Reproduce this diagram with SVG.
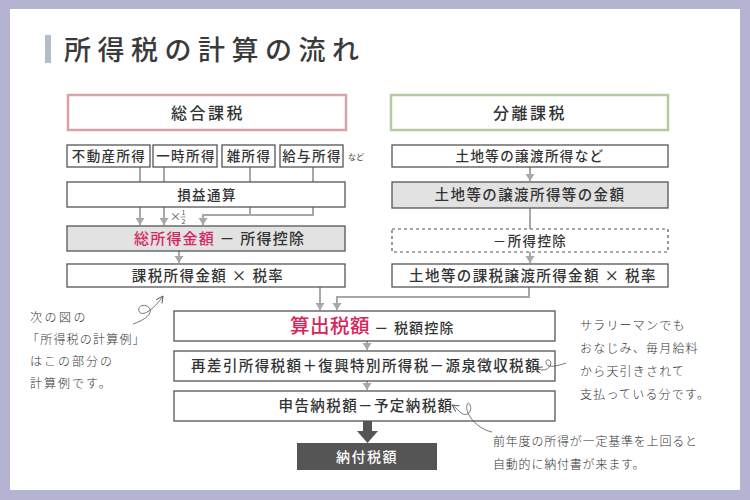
<svg xmlns="http://www.w3.org/2000/svg" width="750" height="500" viewBox="0 0 750 500">
<defs>
<style>
text{font-family:"Noto Sans CJK JP","Noto Sans",sans-serif;fill:#333}
.box{fill:#fff;stroke:#555;stroke-width:1.3}
.gbox{fill:#e2e2e2;stroke:#555;stroke-width:1.3}
.dbox{fill:#fff;stroke:#555;stroke-width:1.2;stroke-dasharray:3 3}
.t{font-size:13.5px;letter-spacing:1.4px;text-anchor:middle;font-weight:500}
.t15{font-size:14.5px;letter-spacing:1.4px;text-anchor:middle;font-weight:500}
.con{fill:none;stroke:#a8a8a8;stroke-width:2}
.note{font-size:12px;letter-spacing:1.2px;font-weight:300;fill:#333}
.sq{fill:none;stroke:#555;stroke-width:0.8}
.red{fill:#d8245c}
</style>
<marker id="ah" markerUnits="userSpaceOnUse" markerWidth="8" markerHeight="10" refX="7" refY="5" orient="auto" viewBox="0 0 8 10">
<path d="M0,0.5 L7,5 L0,9.5 Z" fill="#a8a8a8"/>
</marker>
<marker id="sh" markerUnits="userSpaceOnUse" markerWidth="8" markerHeight="8" refX="7" refY="4" orient="auto" viewBox="0 0 8 8">
<path d="M0,0.5 L7,4 L0,7.5" fill="none" stroke="#555" stroke-width="0.9"/>
</marker>
</defs>
<rect x="0" y="0" width="750" height="500" fill="#b4b3d2"/>
<rect x="10" y="9" width="730" height="481" fill="#fff"/>
<g id="title">
<rect x="45" y="35" width="6" height="28" fill="#b2bccb"/>
<text x="64" y="60" style="font-size:27px;letter-spacing:6.5px;font-weight:500;fill:#3a3a3a">所得税の計算の流れ</text>
</g>

<g id="connectors">
<line class="con" x1="140" y1="167" x2="140" y2="182"/>
<line class="con" x1="164" y1="167" x2="164" y2="182"/>
<line class="con" x1="250" y1="167" x2="250" y2="182"/>
<line class="con" x1="313" y1="167" x2="313" y2="182"/>
<path class="con" d="M140,207 V225" marker-end="url(#ah)"/>
<path class="con" d="M164,207 V225" marker-end="url(#ah)"/>
<path class="con" d="M250,207 V215"/>
<path class="con" d="M313,207 V215 H203 V225" marker-end="url(#ah)"/>
<path class="con" d="M179,251 V263" marker-end="url(#ah)"/>
<path class="con" d="M320,287 V310" marker-end="url(#ah)"/>
<path class="con" d="M529,287 V297 H337 V310" marker-end="url(#ah)"/>
<path class="con" d="M530,167 V181" marker-end="url(#ah)"/>
<line class="con" x1="530" y1="208" x2="530" y2="229"/>
<path class="con" d="M530,252 V263" marker-end="url(#ah)"/>
<path class="con" d="M367,341 V350" marker-end="url(#ah)"/>
<path class="con" d="M367,381 V390" marker-end="url(#ah)"/>
<path d="M363,421 H372 V431 H378 L367.5,443 L357,431 H363 Z" fill="#555"/>
<text x="170" y="221" style="font-size:11px;fill:#555">×</text>
<text x="181.5" y="215" style="font-size:7px;fill:#555">1</text>
<line x1="180.5" y1="217" x2="185.5" y2="217" stroke="#555" stroke-width="0.6"/>
<text x="181.5" y="224" style="font-size:7px;fill:#555">2</text>
</g>

<g id="sogo">
<rect x="68" y="95" width="278" height="35" fill="#fff" stroke="#d9a2a8" stroke-width="2.5"/>
<text x="208" y="118.5" style="font-size:16px;letter-spacing:2.5px;text-anchor:middle;font-weight:500">総合課税</text>
</g>
<g id="bunri">
<rect x="391" y="95" width="277" height="35" fill="#fff" stroke="#b6c9a0" stroke-width="2.5"/>
<text x="530" y="118.5" style="font-size:16px;letter-spacing:2.5px;text-anchor:middle;font-weight:500">分離課税</text>
</g>

<g id="fudosan"><rect class="box" x="67" y="145" width="83" height="22"/><text class="t" x="109" y="161">不動産所得</text></g>
<g id="ichiji"><rect class="box" x="153" y="145" width="64" height="22"/><text class="t" x="186" y="161">一時所得</text></g>
<g id="zatsu"><rect class="box" x="222" y="145" width="53" height="22"/><text class="t" x="249" y="161">雑所得</text></g>
<g id="kyuyo"><rect class="box" x="280" y="145" width="63" height="22"/><text class="t" x="312" y="161">給与所得</text></g>
<text x="348" y="160" style="font-size:8px;fill:#444">など</text>

<g id="sonneki"><rect class="box" x="67" y="182" width="278" height="25"/><text class="t" x="207" y="199.5">損益通算</text></g>
<g id="soshotoku"><rect class="gbox" x="67" y="226" width="278" height="25"/>
<text x="134" y="244" style="font-size:15px;letter-spacing:1.2px;font-weight:500"><tspan class="red">総所得金額</tspan><tspan> － 所得控除</tspan></text></g>
<g id="kazei"><rect class="box" x="67" y="264" width="278" height="23"/><text class="t15" x="208" y="281">課税所得金額 × 税率</text></g>

<g id="tochi1"><rect class="box" x="392" y="145" width="276" height="22"/><text class="t" x="530" y="161">土地等の譲渡所得など</text></g>
<g id="tochi2"><rect class="gbox" x="392" y="182" width="276" height="26"/><text class="t15" x="530" y="200">土地等の譲渡所得等の金額</text></g>
<g id="kojo"><rect class="dbox" x="392" y="229" width="276" height="23"/><text class="t" x="530" y="246">－所得控除</text></g>
<g id="tochi3"><rect class="box" x="392" y="264" width="276" height="23"/><text class="t15" x="533" y="281">土地等の課税譲渡所得金額 × 税率</text></g>

<g id="sanshutsu"><rect class="box" x="174" y="311" width="381" height="30"/>
<text x="290" y="333" style="font-weight:500"><tspan class="red" style="font-size:19.5px;letter-spacing:0.5px">算出税額</tspan><tspan style="font-size:14px;letter-spacing:1.2px"> － 税額控除</tspan></text></g>
<g id="sashihiki"><rect class="box" x="174" y="351" width="381" height="30"/><text class="t15" x="366" y="371">再差引所得税額＋復興特別所得税－源泉徴収税額</text></g>
<g id="shinkoku"><rect class="box" x="174" y="391" width="381" height="30"/><text class="t15" x="366" y="411">申告納税額－予定納税額</text></g>
<g id="nofu"><rect x="297" y="443" width="140" height="27" fill="#555"/><text x="367" y="461.5" style="font-size:14px;letter-spacing:1.5px;text-anchor:middle;fill:#fff;font-weight:500">納付税額</text></g>

<g id="note-left">
<text class="note" x="30" y="322" style="letter-spacing:2.5px">次の図の</text>
<text class="note" x="27" y="344">「所得税の計算例」</text>
<text class="note" x="30" y="366" style="letter-spacing:2px">はこの部分の</text>
<text class="note" x="30" y="388" style="letter-spacing:2px">計算例です。</text>
<path class="sq" d="M133,324 C145,320 152,314 150,309 C147,303 137,305 139,311 C141,317 152,312 163,296" marker-end="url(#sh)"/>
</g>
<g id="note-right">
<text class="note" x="580" y="330">サラリーマンでも</text>
<text class="note" x="580" y="353">おなじみ、毎月給料</text>
<text class="note" x="580" y="376">から天引きされて</text>
<text class="note" x="580" y="399">支払っている分です。</text>
<path class="sq" d="M566,363 C560,365 554,367 549,366 C545,365 545,359 549,360 C553,362 550,370 543,370 C540,370 538,369 535,368" marker-end="url(#sh)"/>
</g>
<g id="note-bottom">
<text class="note" x="493" y="446" style="letter-spacing:0.8px">前年度の所得が一定基準を上回ると</text>
<text class="note" x="493" y="469" style="letter-spacing:0.8px">自動的に納付書が来ます。</text>
<path class="sq" d="M492,432 C482,430 472,422 468,413 C465,406 468,400 470,405 C473,412 466,418 460,412 C457,409 455,407 452,405" marker-end="url(#sh)"/>
</g>
</svg>
